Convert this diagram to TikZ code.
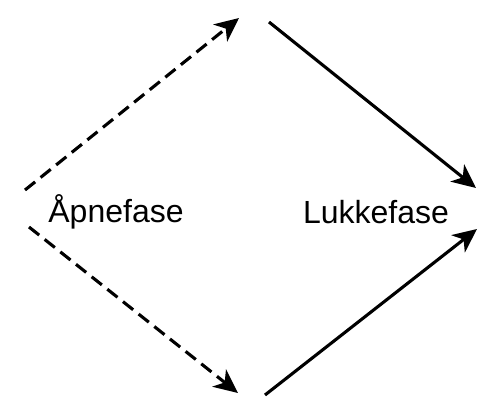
\documentclass[tikz,border=0pt]{standalone}
\usepackage{fontspec}
\setmainfont{Liberation Sans}
\usetikzlibrary{arrows.meta}
\begin{document}
\begin{tikzpicture}[x=1pt,y=1pt,
  conn/.style={line width=3.1pt,-{Stealth[length=24pt,width=22pt,inset=7pt]}},
  dconn/.style={conn,dash pattern=on 13pt off 7pt},
  lbl/.style={font=\fontsize{32}{38}\selectfont,inner sep=0pt}]
\useasboundingbox (0,0) rectangle (478,397);
\coordinate (a1) at (25,207);
\coordinate (a2) at (239,379);
\coordinate (b1) at (29,170);
\coordinate (b2) at (238,4);
\coordinate (c1) at (269,375);
\coordinate (c2) at (476,209);
\coordinate (d1) at (265,2);
\coordinate (d2) at (477,168);
\node[lbl] (apne) at (116,185) {Åpnefase};
\node[lbl] (lukke) at (376,185) {Lukkefase};
\draw[dconn] (a1) -- (a2);
\draw[dconn] (b1) -- (b2);
\draw[conn] (c1) -- (c2);
\draw[conn] (d1) -- (d2);
\end{tikzpicture}
\end{document}
